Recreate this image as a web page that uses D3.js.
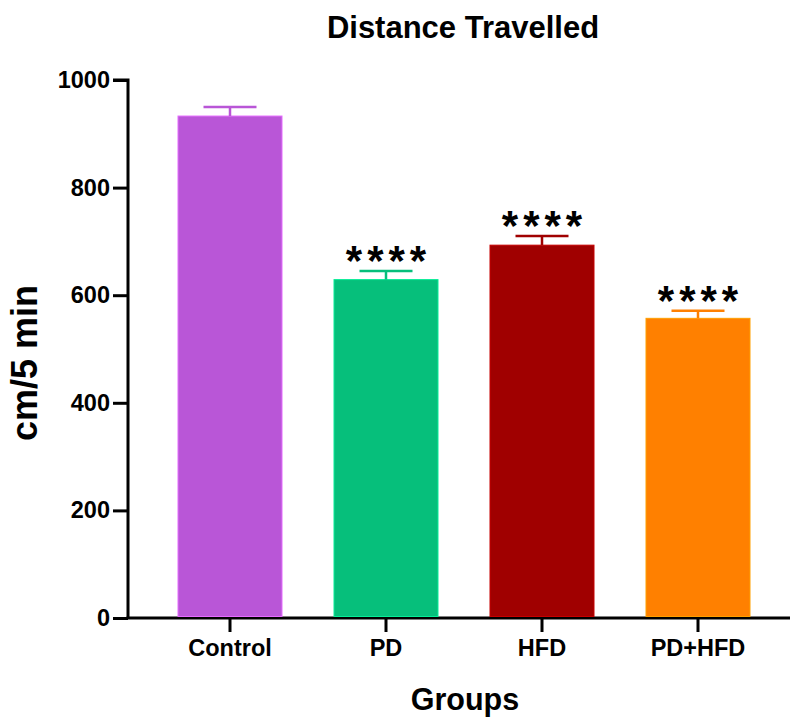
<!DOCTYPE html>
<html>
<head>
<meta charset="utf-8">
<script src="https://cdn.jsdelivr.net/npm/d3@7"></script>
<style>
  body { margin: 0; background: #fff; }
  text { font-family: "Liberation Sans", Arial, sans-serif; font-weight: bold; }
</style>
</head>
<body>
<div id="chart"></div>
<script>
const groups = ["Control", "PD", "HFD", "PD+HFD"];
const means = [933, 629, 693, 557];
const sems = [17, 16, 17, 14];
const stars = ["", "****", "****", "****"];
const colors = ["#B956D7", "#06BF7B", "#A00000", "#FF8000"];
const yTicks = [0, 200, 400, 600, 800, 1000];

const width = 795, height = 718;

const svg = d3.select("#chart").append("svg")
    .attr("width", width)
    .attr("height", height);

const x = d3.scaleBand()
    .domain(groups)
    .range([152, 776])
    .paddingInner(1 / 3)
    .paddingOuter(1 / 6);

const y = d3.scaleLinear()
    .domain([0, 1000])
    .range([618, 80]);

// y axis
const yAxis = d3.axisLeft(y).tickValues(yTicks).tickFormat(d3.format("d")).tickSize(15).tickPadding(3);
const gy = svg.append("g")
    .attr("transform", "translate(128,0)")
    .call(yAxis);
gy.select(".domain").attr("d", `M-15,${y(1000)}H0V${y(0)}`).attr("stroke-width", 3);
gy.selectAll(".tick line").attr("stroke-width", 3);
gy.selectAll(".tick text").attr("font-size", 23.5).attr("fill", "#000");

// x axis
const xAxis = d3.axisBottom(x).tickSize(14).tickPadding(7);
const gx = svg.append("g")
    .attr("transform", `translate(0,${y(0)})`)
    .call(xAxis);
gx.select(".domain").attr("d", "M126.5,0H790").attr("stroke-width", 3);
gx.selectAll(".tick line").attr("stroke-width", 3);
gx.selectAll(".tick text").attr("font-size", 23.5).attr("fill", "#000");

const data = groups.map((g, i) => ({ g, m: means[i], e: sems[i], s: stars[i], c: colors[i] }));

// bars
svg.selectAll("rect.bar")
    .data(data)
    .join("rect")
    .attr("class", "bar")
    .attr("x", d => x(d.g))
    .attr("y", d => y(d.m))
    .attr("width", x.bandwidth())
    .attr("height", d => y(0) - y(d.m) - 1.5)
    .attr("fill", d => d.c)
    .attr("stroke", d => d3.color(d.c).brighter(0.6))
    .attr("stroke-width", 1);

// error bars (upper only)
const capW = 53;
const err = svg.selectAll("g.err")
    .data(data)
    .join("g")
    .attr("class", "err")
    .attr("stroke", d => d.c)
    .attr("stroke-width", 2.5);
err.append("line")
    .attr("x1", d => x(d.g) + x.bandwidth() / 2)
    .attr("x2", d => x(d.g) + x.bandwidth() / 2)
    .attr("y1", d => y(d.m))
    .attr("y2", d => y(d.m + d.e));
err.append("line")
    .attr("x1", d => x(d.g) + x.bandwidth() / 2 - capW / 2)
    .attr("x2", d => x(d.g) + x.bandwidth() / 2 + capW / 2)
    .attr("y1", d => y(d.m + d.e))
    .attr("y2", d => y(d.m + d.e));

// significance stars
svg.selectAll("text.star")
    .data(data)
    .join("text")
    .attr("class", "star")
    .attr("x", d => x(d.g) + x.bandwidth() / 2 + 2.5)
    .attr("y", d => y(d.m + d.e) + 4)
    .attr("text-anchor", "middle")
    .attr("font-size", 42)
    .attr("letter-spacing", 5)
    .text(d => d.s);

// title and labels
svg.append("text")
    .attr("x", 463)
    .attr("y", 38)
    .attr("text-anchor", "middle")
    .attr("font-size", 31)
    .text("Distance Travelled");

svg.append("text")
    .attr("x", 465)
    .attr("y", 710)
    .attr("text-anchor", "middle")
    .attr("font-size", 30.5)
    .text("Groups");

svg.append("text")
    .attr("transform", "translate(37,363) rotate(-90)")
    .attr("text-anchor", "middle")
    .attr("font-size", 36)
    .text("cm/5 min");
</script>
</body>
</html>
